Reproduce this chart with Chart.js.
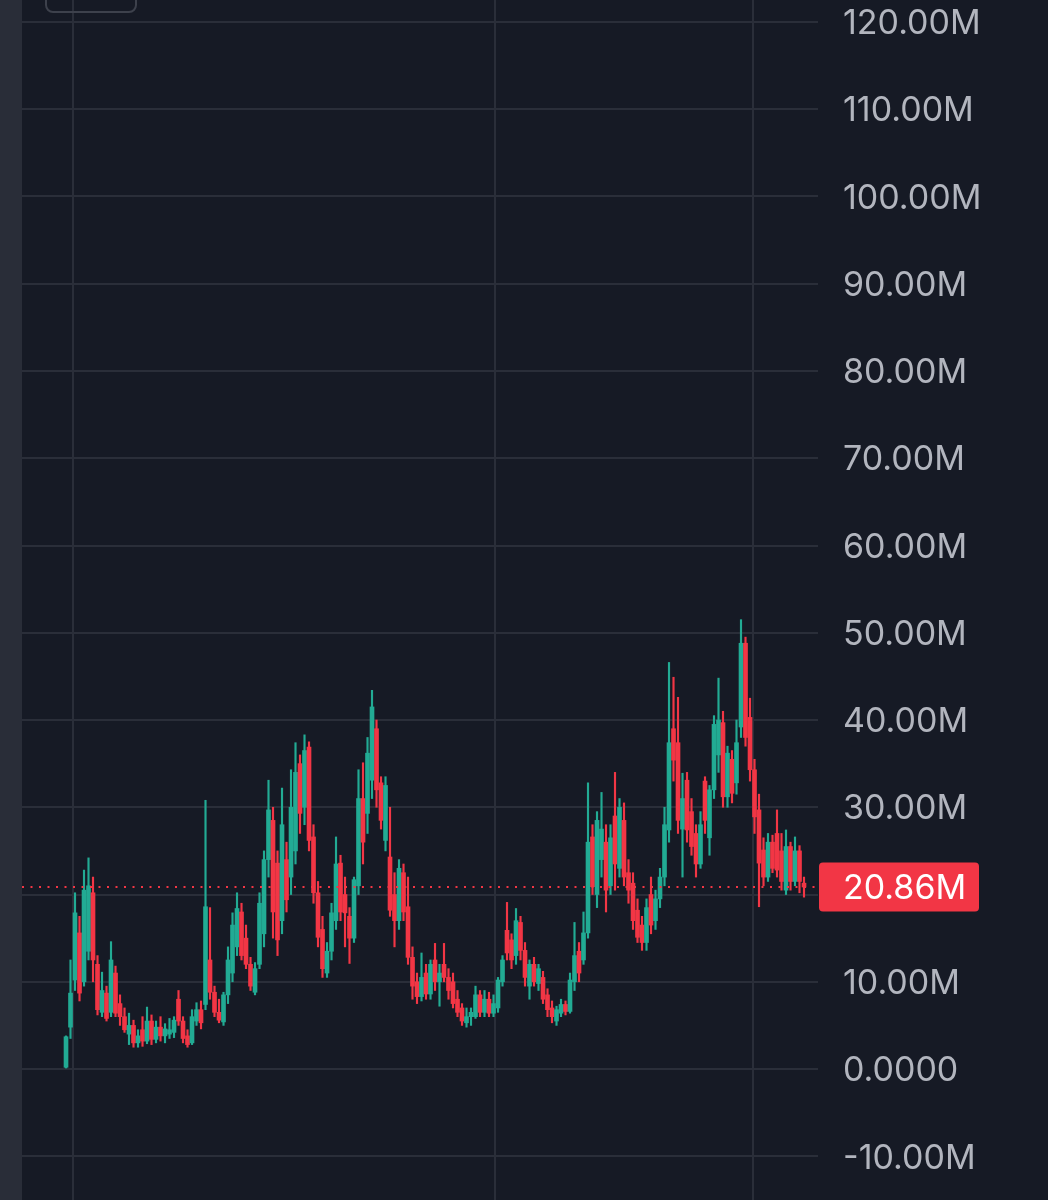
<!DOCTYPE html>
<html>
<head>
<meta charset="utf-8">
<script src="https://cdn.jsdelivr.net/npm/chart.js@4.4.1/dist/chart.umd.min.js"></script>
<style>
    html, body { margin: 0; padding: 0; background: #161a25; overflow: hidden; }
    #strip { position: absolute; left: 0; top: 0; width: 22px; height: 1200px; background: #292d38; }
    #btn { position: absolute; left: 45px; top: -30px; width: 88px; height: 39px; border: 2px solid #3d414c; border-radius: 8px; }
    #wrap { position: absolute; left: 22px; top: 0; width: 1026px; height: 1200px; }
</style>
</head>
<body>
<div id="strip"></div>
<div id="wrap"><canvas id="grafico" width="1026" height="1200"></canvas></div>
<div id="btn"></div>
<script>
// valori in milioni, una candela per elemento
const aperture = [
    0.2, 4.8, 10.2, 15.6, 10.0, 13.5, 20.2, 12.0, 6.5, 8.7,
    6.5, 11.0, 7.5, 6.0, 4.0, 5.0, 3.0, 4.5, 3.2, 5.5,
    3.4, 4.8, 3.8, 4.0, 4.2, 8.0, 5.5, 3.8, 3.0, 5.5,
    6.8, 7.4, 12.5, 8.8, 6.5, 5.4, 8.5, 11.0, 14.0, 18.0,
    15.0, 12.0, 8.8, 12.0, 15.5, 24.0, 28.5, 23.6, 17.0, 24.0,
    22.0, 25.0, 35.0, 30.0, 36.9, 26.6, 20.2, 16.0, 11.0, 13.5,
    17.0, 23.6, 20.0, 17.5, 15.0, 21.0, 31.0, 29.3, 33.1, 39.0,
    32.8, 26.2, 24.3, 20.0, 17.0, 22.5, 18.6, 12.8, 10.0, 8.3,
    11.0, 8.6, 12.5, 10.0, 12.0, 10.5, 10.0, 8.0, 7.0, 5.3,
    6.0, 6.0, 8.5, 6.5, 8.0, 6.4, 7.0, 10.0, 15.9, 14.8,
    13.0, 16.8, 13.6, 9.5, 12.0, 9.8, 10.5, 8.5, 7.0, 5.5,
    6.4, 7.4, 6.6, 10.0, 13.5, 12.5, 15.6, 26.6, 20.0, 24.0,
    26.0, 21.0, 29.0, 23.0, 28.5, 22.5, 21.3, 18.2, 16.5, 14.5,
    20.0, 17.0, 19.5, 22.0, 27.4, 39.0, 37.4, 27.5, 33.1, 29.5,
    27.0, 23.5, 33.0, 26.5, 32.0, 36.0, 39.7, 31.2, 35.5, 32.8,
    39.2, 48.8, 40.3, 34.3, 29.7, 25.1, 22.0, 26.0, 27.0, 25.0,
    20.5, 25.5, 21.5, 25.0, 21.3
]
const massimi = [
    3.8, 12.5, 20.2, 17.5, 22.8, 24.2, 22.0, 13.0, 11.1, 9.5,
    14.6, 11.8, 8.5, 7.0, 6.4, 5.6, 4.5, 6.0, 7.1, 6.2,
    5.5, 6.0, 5.2, 5.8, 6.0, 9.0, 6.0, 4.5, 6.8, 7.6,
    7.8, 30.8, 18.5, 9.5, 8.0, 8.8, 14.0, 17.9, 20.2, 19.0,
    16.5, 12.8, 12.2, 20.2, 25.0, 33.1, 30.0, 25.0, 32.2, 26.0,
    34.3, 37.4, 36.0, 38.3, 37.5, 28.0, 21.5, 17.5, 14.5, 19.0,
    26.6, 24.5, 22.0, 18.5, 22.0, 34.3, 35.1, 38.0, 43.4, 40.0,
    33.5, 33.5, 30.0, 22.5, 24.0, 23.5, 22.0, 14.0, 11.0, 13.3,
    12.0, 12.5, 14.4, 12.0, 14.4, 11.5, 11.0, 9.0, 7.5, 7.0,
    7.0, 9.5, 9.0, 9.0, 8.8, 8.5, 10.5, 13.0, 19.1, 15.5,
    18.4, 17.5, 14.5, 12.5, 12.8, 12.0, 11.2, 9.2, 7.8, 7.2,
    8.0, 7.8, 11.0, 16.8, 14.5, 18.0, 32.8, 28.0, 29.5, 31.7,
    28.0, 28.0, 34.0, 31.0, 30.5, 24.0, 22.5, 19.5, 17.5, 19.5,
    22.0, 20.5, 23.0, 30.0, 46.6, 44.9, 42.6, 33.9, 34.0, 31.0,
    28.0, 29.5, 33.5, 32.5, 40.5, 44.8, 41.0, 37.0, 36.5, 40.0,
    51.5, 49.5, 42.5, 35.5, 31.5, 26.5, 27.0, 26.8, 29.7, 27.0,
    27.4, 26.0, 26.6, 25.6, 22.0
]
const minimi = [
    0.0, 3.5, 9.0, 7.8, 9.5, 12.5, 10.0, 6.2, 6.0, 5.5,
    6.0, 6.0, 5.0, 4.2, 2.8, 2.5, 2.5, 2.6, 2.9, 2.8,
    3.0, 3.2, 3.0, 3.5, 3.6, 5.0, 3.0, 2.5, 2.8, 5.0,
    4.6, 6.8, 8.0, 6.0, 5.3, 5.0, 7.5, 10.0, 13.0, 12.5,
    11.5, 9.0, 8.5, 11.5, 14.0, 22.0, 15.0, 13.0, 15.5, 18.0,
    20.0, 23.5, 27.0, 28.0, 25.0, 19.0, 14.0, 10.5, 10.5, 12.5,
    16.0, 17.0, 14.0, 12.1, 14.5, 20.0, 23.5, 27.0, 31.0, 30.0,
    27.5, 25.0, 17.5, 14.0, 16.0, 17.0, 12.0, 8.0, 7.5, 7.8,
    8.0, 8.0, 9.0, 7.2, 10.0, 8.0, 7.0, 6.0, 5.0, 4.8,
    5.0, 5.8, 6.0, 6.0, 6.0, 6.0, 6.5, 9.5, 12.5, 11.5,
    12.0, 12.5, 9.5, 8.0, 9.5, 9.0, 7.5, 6.0, 5.3, 5.0,
    6.0, 6.2, 6.4, 9.0, 10.0, 12.0, 15.0, 20.0, 18.5, 22.0,
    18.0, 20.0, 20.5, 22.0, 21.0, 19.0, 16.0, 14.5, 13.6, 13.6,
    15.5, 16.0, 18.5, 21.0, 26.0, 33.0, 27.0, 22.0, 26.0, 24.5,
    22.0, 23.0, 27.0, 24.5, 31.0, 34.0, 30.0, 30.0, 30.5, 31.5,
    38.0, 37.0, 33.0, 27.0, 18.6, 21.0, 21.5, 22.5, 22.0, 20.5,
    20.0, 20.5, 21.0, 20.2, 19.7
]
const chiusure = [
    3.7, 8.7, 17.9, 8.7, 20.5, 21.0, 12.5, 6.8, 9.0, 5.8,
    12.5, 6.4, 6.0, 4.5, 5.0, 3.0, 3.8, 3.2, 5.5, 3.4,
    4.8, 3.8, 4.6, 4.5, 5.6, 5.5, 3.5, 2.8, 6.0, 6.8,
    5.3, 18.6, 8.8, 6.5, 5.6, 8.5, 12.5, 16.5, 18.4, 13.0,
    12.0, 9.5, 11.5, 19.0, 24.0, 29.7, 18.0, 14.8, 28.0, 19.4,
    30.0, 34.0, 29.3, 36.5, 26.2, 20.2, 15.1, 11.5, 13.5, 17.9,
    23.5, 18.0, 17.9, 15.0, 21.7, 31.0, 26.0, 36.2, 41.5, 32.0,
    28.5, 32.5, 18.2, 17.0, 23.0, 18.0, 12.8, 9.5, 8.3, 10.5,
    8.6, 12.0, 10.0, 11.0, 10.5, 9.0, 7.5, 6.5, 5.5, 6.0,
    6.5, 8.5, 6.5, 8.0, 6.4, 7.5, 10.2, 12.5, 13.3, 12.5,
    17.0, 13.6, 10.5, 12.0, 10.0, 11.5, 8.0, 6.8, 6.0, 6.8,
    7.4, 6.6, 10.2, 13.0, 11.0, 15.6, 26.0, 20.9, 28.5, 27.5,
    20.5, 26.5, 23.5, 30.0, 22.0, 20.5, 17.0, 15.1, 14.5, 18.5,
    16.5, 19.5, 22.0, 28.0, 37.4, 35.4, 28.5, 31.0, 27.4, 25.5,
    23.5, 28.0, 28.5, 32.0, 39.5, 40.0, 31.2, 36.2, 31.6, 37.4,
    48.8, 38.0, 34.3, 28.9, 23.6, 22.0, 26.0, 23.0, 22.8, 21.5,
    25.5, 21.5, 25.0, 21.5, 20.86
]
const tickPrezzi = [-10, 0, 10, 20, 30, 40, 50, 60, 70, 80, 90, 100, 110, 120]
const tickTempo = [1.56, 95.33, 152.67]

const verde = '#22ab94'
const rosso = '#f23645'
const colori = chiusure.map((c, i) => c >= aperture[i] ? verde : rosso)

const ombre = minimi.map((l, i) => ({ x: i, y: [l, massimi[i]] }))
const corpi = aperture.map((o, i) => {
    let c = chiusure[i]
    if (Math.abs(c - o) < 0.15) c = o + 0.15
    return { x: i, y: [o, c] }
})

const ultimoPrezzo = {
    id: 'ultimoPrezzo',
    afterDatasetsDraw(chart) {
        const ctx = chart.ctx
        const area = chart.chartArea
        const y = chart.scales.y.getPixelForValue(chiusure[chiusure.length - 1])
        ctx.save()
        ctx.strokeStyle = rosso
        ctx.lineWidth = 2
        ctx.setLineDash([2, 6.5])
        ctx.beginPath()
        ctx.moveTo(area.left, y)
        ctx.lineTo(area.right, y)
        ctx.stroke()
        ctx.setLineDash([])
        ctx.fillStyle = rosso
        ctx.beginPath()
        ctx.roundRect(area.right + 1, y - 24.5, 160, 49, 4)
        ctx.fill()
        ctx.fillStyle = '#ffffff'
        ctx.font = '34px Inter'
        ctx.textBaseline = 'middle'
        ctx.fillText(chiusure[chiusure.length - 1].toFixed(2) + 'M', area.right + 25, y + 2)
        ctx.restore()
    }
}

new Chart(document.getElementById('grafico'), {
    type: 'bar',
    data: {
        datasets: [
            {
                label: 'ombre',
                data: ombre,
                backgroundColor: colori,
                barThickness: 1.5,
                grouped: false
            },
            {
                label: 'corpi',
                data: corpi,
                backgroundColor: colori,
                barThickness: 4,
                grouped: false
            }
        ]
    },
    options: {
        responsive: false,
        animation: false,
        layout: { padding: 0 },
        plugins: { legend: { display: false }, tooltip: { enabled: false } },
        scales: {
            x: {
                type: 'linear',
                offset: false,
                min: -9.78,
                max: 167.11,
                afterBuildTicks: s => { s.ticks = tickTempo.map(v => ({ value: v })) },
                afterFit: s => { s.height = 0 },
                ticks: { display: false },
                grid: { color: '#2a2e39', lineWidth: 2, drawTicks: false, offset: false },
                border: { display: false }
            },
            y: {
                position: 'right',
                min: -15.01,
                max: 122.52,
                afterBuildTicks: s => { s.ticks = tickPrezzi.map(v => ({ value: v })) },
                afterFit: s => {
                    s.width = 230
                    s.paddingTop = 0
                    s.paddingBottom = 0
                },
                ticks: {
                    padding: 25,
                    labelOffset: 2,
                    color: '#b2b5be',
                    font: { family: 'Inter', size: 34 },
                    callback: v => v == 0 ? '0.0000' : v.toFixed(2) + 'M'
                },
                grid: { color: '#2a2e39', lineWidth: 2, drawTicks: false },
                border: { display: false }
            }
        }
    },
    plugins: [ultimoPrezzo]
})
</script>
</body>
</html>
